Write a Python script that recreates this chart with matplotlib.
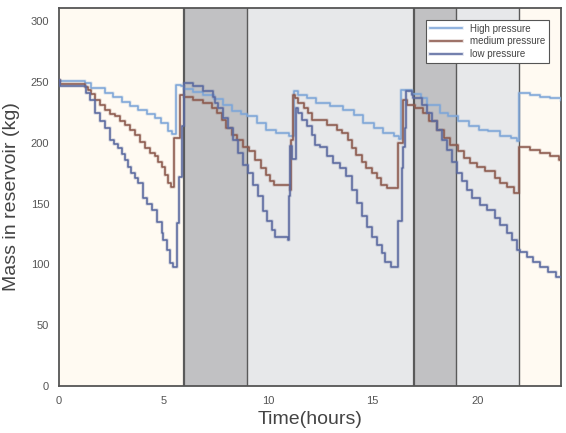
import numpy as np
import matplotlib.pyplot as plt
import matplotlib.patheffects as pe

plt.rcParams['font.family'] = ['Liberation Sans', 'DejaVu Sans']

# time (hours) and mass (kg)
t_high = [0, 1.24, 1.56, 2.2, 2.6, 3.0, 3.4, 3.8, 4.2, 4.6, 4.9, 5.2, 5.4, 5.58, 5.86,
          6.0, 6.4, 6.9, 7.4, 7.85, 8.3, 8.7, 9.0, 9.45, 9.9, 10.4, 11.0, 11.23,
          11.45, 11.84, 12.3, 12.96, 13.6, 14.1, 14.55, 15.05, 15.5, 16.0, 16.25,
          16.35, 16.9, 17.3, 17.6, 18.2, 18.6, 19.1, 19.6, 20.1, 20.5, 21.1, 21.6,
          21.9, 22.0, 22.5, 23.0, 23.5, 24]
m_high = [250.7, 249, 245, 241, 238, 234, 230, 227, 224, 220.5, 216, 209.5, 207.6, 248, 246.5,
          244, 241.8, 239.7, 236, 231.4, 226, 224, 221.8, 216.4, 210.9, 208, 205.4, 242.5,
          239.7, 237, 232.9, 230, 227.3, 223, 216.4, 212, 208, 205.4, 203,
          243.8, 240, 237, 231.4, 224.6, 221.8, 217.8, 213.6, 210.9, 209.5, 205.4, 204,
          201.3, 241, 239.7, 238, 237, 235]

t_med = [0, 0.05, 1.24, 1.4, 1.56, 1.72, 1.96, 2.2, 2.44, 2.68, 2.92, 3.15, 3.4, 3.63,
         3.87, 4.11, 4.35, 4.59, 4.75, 4.91, 5.06, 5.22, 5.35, 5.5, 5.78, 6.0, 6.4, 6.9,
         7.3, 7.55, 7.8, 8.0, 8.3, 8.5, 8.8, 9.1, 9.4, 9.65, 9.9, 10.1, 10.3, 11.05,
         11.09, 11.2, 11.3, 11.45, 11.7, 11.9, 12.1, 12.8, 13.3, 13.55, 13.8, 14.0, 14.2,
         14.5, 14.7, 14.95, 15.2, 15.4, 15.7, 16.2, 16.46, 16.65, 17.03, 17.4, 17.7,
         18.06, 18.4, 18.7, 19.1, 19.35, 19.66, 19.98, 20.38, 20.86, 21.1, 21.42, 21.74,
         22.0, 22.5, 22.99, 23.5, 23.9, 24]
m_med = [252, 248.8, 246, 243.8, 240, 235.6, 231, 227, 224, 222, 218, 215, 211, 206.8,
         201, 195.8, 192, 188.9, 184, 180.6, 174, 167, 164, 204, 239.7, 238, 235.6, 232.9,
         228.7, 224.6, 219, 212, 206.8, 202.6, 197, 193, 186, 179.3, 173.8, 168.3, 165.6, 161.4,
         202.6, 239.7, 237, 232.9, 228.7, 224.6, 219, 215, 211, 208, 202.6, 195.8, 190,
         184.7, 179.3, 175, 171, 165.6, 162.8, 200, 235.6, 231.4, 228.7, 224.6, 217.8,
         210.9, 204, 198.5, 193, 187.5, 183.4, 180.6, 176.6, 171, 167, 164, 158.7,
         197, 194.4, 191.6, 189, 186, 186]

t_low = [0, 0.05, 1.32, 1.48, 1.72, 1.96, 2.2, 2.44, 2.64, 2.84, 3.0, 3.15, 3.3, 3.47,
         3.63, 3.79, 4.03, 4.2, 4.43, 4.67, 4.91, 5.0, 5.15, 5.31, 5.45, 5.67, 5.75, 5.91,
         5.98, 6.4, 6.9, 7.37, 7.45, 7.6, 7.84, 8.08, 8.32, 8.57, 8.81, 9.05, 9.29, 9.53,
         9.77, 9.93, 10.17, 10.33, 10.96, 11.0, 11.04, 11.15, 11.33, 11.44, 11.6, 11.84,
         12.08, 12.24, 12.48, 12.8, 13.11, 13.43, 13.75, 13.99, 14.23, 14.47, 14.71,
         14.95, 15.19, 15.43, 15.58, 15.9, 16.22, 16.38, 16.46, 16.54, 16.59, 16.86,
         16.94, 17.34, 17.58, 17.82, 18.06, 18.3, 18.54, 18.78, 19.02, 19.26, 19.5, 19.74,
         20.14, 20.46, 20.86, 21.1, 21.42, 21.66, 21.9, 22.06, 22.36, 22.67, 22.99, 23.38,
         23.78, 24]
m_low = [252, 246.5, 241, 235.6, 224.6, 218, 212, 202.6, 199, 195.8, 191, 186, 180, 175,
         171, 167, 154.6, 150, 145, 135, 125.8, 120, 112, 101, 98, 134, 172, 213.6,
         249.3, 246.6, 242.5, 238, 233, 228.7, 220.5, 212, 202.6, 191.6, 182, 175, 165.6, 156,
         143.8, 135.4, 128.5, 123, 120, 156, 197.5, 187, 228.7, 224.5, 219, 213.6,
         206.8, 198.5, 197, 189, 183.4, 179.3, 172.4, 161.4, 150.5, 139.5, 131.2,
         123, 116, 109.3, 102.4, 98.3, 135.4, 179.3, 197, 212, 242.5, 239.7,
         237, 231.4, 224.6, 217.8, 210.9, 202.6, 194.4, 184.7, 175, 168.3, 161.4, 154.6,
         149, 145, 138, 132.6, 125.8, 120, 112, 110.6, 106.5, 102.4, 98.3, 94,
         90, 90]

# shaded periods (hours)
periods = [(0, 6), (6, 9), (9, 17), (17, 19), (19, 22), (22, 24)]
period_colors = ['#fffaf2', '#c1c1c3', '#e7e8ea', '#c1c1c3', '#e7e8ea', '#fffaf2']
boundaries = [6, 9, 17, 19, 22]
boundary_widths = [1.6, 1.0, 1.6, 1.0, 1.0]

fig = plt.figure(figsize=(5.66, 4.33), dpi=100)
ax = fig.add_axes([0.104, 0.1085, 0.887, 0.873])

for (a, b), c in zip(periods, period_colors):
    ax.axvspan(a, b, color=c, lw=0, zorder=0)
for b, w in zip(boundaries, boundary_widths):
    ax.axvline(b, color='#5a5a5a', lw=w, zorder=1)

series = [(t_high, m_high, '#7ea6d8', 'High pressure'),
          (t_med, m_med, '#8c5a4e', 'medium pressure'),
          (t_low, m_low, '#5b6aa0', 'low pressure')]
for t, m, c, lab in series:
    ax.plot(t, m, drawstyle='steps-post', color=c, lw=1.15, label=lab, zorder=3,
            path_effects=[pe.Stroke(linewidth=2.6, foreground=c, alpha=0.22), pe.Normal()])

ax.set_xlim(0, 24)
ax.set_ylim(0, 311)
ax.set_xticks([0, 5, 10, 15, 20])
ax.set_yticks([0, 50, 100, 150, 200, 250, 300])
ax.tick_params(length=0, labelsize=8, labelcolor='#555555', pad=7)
for s in ax.spines.values():
    s.set_color('#555555')
    s.set_linewidth(1.3)
ax.set_xlabel('Time(hours)', fontsize=14, color='#444444', labelpad=4)
ax.set_ylabel('Mass in reservoir (kg)', fontsize=14, color='#444444', labelpad=8)

leg = ax.legend(loc='upper right', fontsize=7, fancybox=False, framealpha=1,
                edgecolor='#555555', borderaxespad=1.2, handlelength=3.3,
                labelspacing=0.3, borderpad=0.4)
leg.get_frame().set_linewidth(0.8)
for txt in leg.get_texts():
    txt.set_color('#444444')

fig.savefig('out.png', dpi=100)
